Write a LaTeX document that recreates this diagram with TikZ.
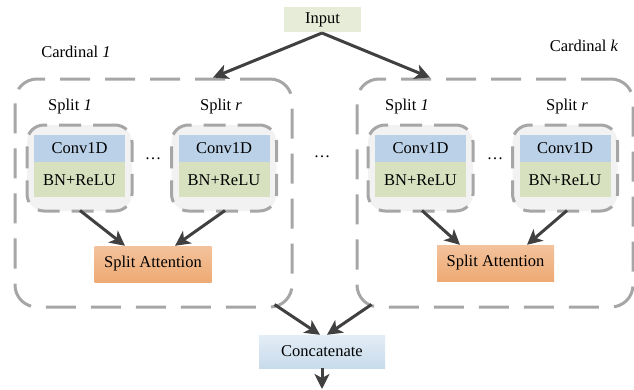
\documentclass[tikz,border=0pt]{standalone}
\usepackage{fontspec}
\setmainfont{Liberation Serif}
\usetikzlibrary{arrows.meta,calc}
\definecolor{dashgray}{HTML}{A6A6A6}
\definecolor{arrdark}{HTML}{404040}
\definecolor{convblue}{HTML}{BAD1E7}
\definecolor{bngreen}{HTML}{D7E0BF}
\definecolor{splitfill}{HTML}{F2F2F2}
\definecolor{inputgreen}{HTML}{E6ECD8}
\definecolor{attTop}{HTML}{F3C29C}
\definecolor{attBot}{HTML}{EEAA74}
\definecolor{catTop}{HTML}{E3EDF6}
\definecolor{catBot}{HTML}{C8DBEB}
\tikzset{
  txt/.style={font=\fontsize{16.5}{19}\selectfont, inner sep=0pt},
  cardbox/.style={draw=dashgray, line width=3pt, dash pattern=on 30pt off 15pt, rounded corners=22pt, minimum width=277pt, minimum height=228pt, inner sep=0pt},
  splitbox/.style={draw=dashgray, fill=splitfill, line width=3pt, dash pattern=on 22pt off 12pt, rounded corners=17pt, minimum width=105pt, minimum height=86pt, inner sep=0pt},
  convbox/.style={txt, fill=convblue, minimum width=91pt, minimum height=27pt},
  bnbox/.style={txt, fill=bngreen, minimum width=91pt, minimum height=35pt},
  attbox/.style={txt, top color=attTop, bottom color=attBot, minimum width=117pt, minimum height=36pt},
  arr/.style={draw=arrdark, line width=3pt, -{Stealth[length=15pt,width=15pt,inset=4pt]}},
}
\begin{document}
\begin{tikzpicture}[x=1pt,y=-1pt]
\useasboundingbox (0,0) rectangle (634,389);
% input
\node[txt, fill=inputgreen, minimum width=77pt, minimum height=25pt] (input) at (322.5,19.5) {Input};
% cardinal boxes
\node[cardbox] (card1) at (153.5,193) {};
\node[cardbox, minimum width=276pt] (card2) at (495,193) {};
\node[txt] (lab1) at (76,52) {Cardinal \textit{1}};
\node[txt] (labk) at (584,46) {Cardinal \textit{k}};
% split boxes
\node[splitbox] (s11) at (79.5,168) {};
\node[splitbox] (s1r) at (224,168) {};
\node[splitbox] (s21) at (420.5,168) {};
\node[splitbox] (s2r) at (565,168) {};
\foreach \s in {s11,s1r,s21,s2r}{
  \node[convbox] (\s c) at ($(\s.center)+(0,-19.5)$) {Conv1D};
  \node[bnbox, anchor=north] (\s b) at (\s c.south) {BN+ReLU};
}
\node[txt] (sl11) at (70,107) {Split \textit{1}};
\node[txt] (sl1r) at (221,107) {Split \textit{r}};
\node[txt] (sl21) at (407,107) {Split \textit{1}};
\node[txt] (sl2r) at (567,107) {Split \textit{r}};
% dots
\node[txt] (d1) at (153,159) {…};
\node[txt] (dm) at (322,157) {…};
\node[txt] (d2) at (495,159) {…};
% split attention
\node[attbox] (att1) at (153,264) {Split Attention};
\node[attbox] (att2) at (495.5,263) {Split Attention};
% concatenate
\node[txt, top color=catTop, bottom color=catBot, minimum width=126pt, minimum height=33pt] (cat) at (322,351.5) {Concatenate};
\coordinate (outend) at (322,389);
% arrows
\coordinate (ia) at (322,33);
\draw[arr] (ia) -- ($(card1.north)+(59.5,0)$);
\draw[arr] (ia) -- ($(card2.north)+(-65,0)$);
\draw[arr] ($(s11.south)+(0.5,-2)$) -- ($(att1.north)+(-28,0)$);
\draw[arr] ($(s1r.south)+(1,-2)$) -- ($(att1.north)+(22,0)$);
\draw[arr] ($(s21.south)+(1.5,-2)$) -- ($(att2.north)+(-35.5,0)$);
\draw[arr] ($(s2r.south)+(2,-2)$) -- ($(att2.north)+(31.5,0)$);
\draw[arr] ($(card1.south east)+(-19,-4)$) -- ($(cat.north)+(-2,0)$);
\draw[arr] ($(card2.south west)+(16,-4)$) -- ($(cat.north)+(5,0)$);
\draw[arr] (cat.south) -- (outend);
\end{tikzpicture}
\end{document}
